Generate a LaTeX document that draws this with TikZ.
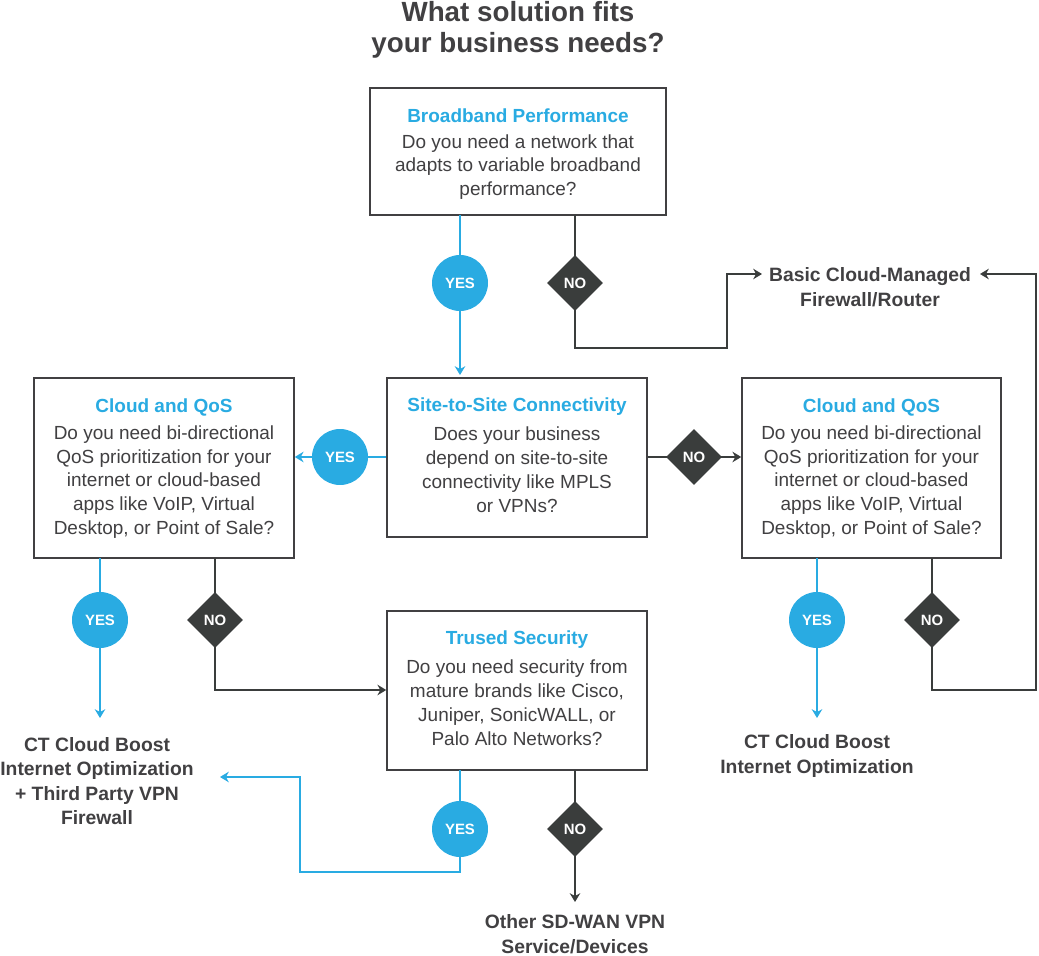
\documentclass[tikz,border=0pt]{standalone}
\usepackage{fontspec}
\setmainfont{Liberation Sans}
\usetikzlibrary{shapes.geometric,arrows.meta}
\definecolor{cblue}{HTML}{29ABE2}
\definecolor{cdark}{HTML}{3A3D3C}
\definecolor{ctext}{HTML}{414042}
\begin{document}
\begin{tikzpicture}[x=0.02cm,y=-0.02cm,
  font=\fontsize{10.8}{13.6}\selectfont, text=ctext,
  box/.style={draw=ctext,line width=0.9pt,fill=white,align=center,inner sep=0pt},
  yes/.style={circle,fill=cblue,text=white,minimum size=1.12cm,inner sep=0pt,font=\fontsize{8.5}{9}\selectfont\bfseries},
  no/.style={diamond,fill=cdark,text=white,minimum size=1.12cm,inner sep=0pt,font=\fontsize{8.5}{9}\selectfont\bfseries},
  bl/.style={draw=cblue,line width=1.6pt},
  dk/.style={draw=cdark,line width=1.6pt},
  arr/.style={-{Stealth[length=5pt,width=6pt]}},
  res/.style={align=center,font=\fontsize{11}{14}\selectfont\bfseries},
  hd/.style={text=cblue,font=\fontsize{10.8}{13}\selectfont\bfseries}]
\useasboundingbox (0,0) rectangle (1039,956);
\node[align=center,font=\fontsize{15.8}{18}\selectfont\bfseries] (title) at (518,30) {What solution fits\\your business needs?};
% boxes
\node[box,minimum width=5.92cm,minimum height=2.54cm] (b1) at (518,151.5) {};
\node[hd] at (518,116) {Broadband Performance};
\node[align=center] at (518,167) {Do you need a network that\\adapts to variable broadband\\performance?};
\node[box,minimum width=5.2cm,minimum height=3.18cm] (b2) at (517,457.5) {};
\node[hd] at (517,407) {Site-to-Site Connectivity};
\node[align=center] at (517,470) {Does your business\\depend on site-to-site\\connectivity like MPLS\\or VPNs?};
\node[box,minimum width=5.2cm,minimum height=3.6cm] (b3) at (164,468) {};
\node[hd] at (164,407) {Cloud and QoS};
\node[align=center] at (164,482) {Do you need bi-directional\\QoS prioritization for your\\internet or cloud-based\\apps like VoIP, Virtual\\Desktop, or Point of Sale?};
\node[box,minimum width=5.18cm,minimum height=3.6cm] (b4) at (871.5,468) {};
\node[hd] at (871.5,407) {Cloud and QoS};
\node[align=center] at (871.5,482) {Do you need bi-directional\\QoS prioritization for your\\internet or cloud-based\\apps like VoIP, Virtual\\Desktop, or Point of Sale?};
\node[box,minimum width=5.2cm,minimum height=3.18cm] (b5) at (517,690.5) {};
\node[hd] at (517,640) {Trused Security};
\node[align=center] at (517,703) {Do you need security from\\mature brands like Cisco,\\Juniper, SonicWALL, or\\Palo Alto Networks?};
% results
\node[res] (r1) at (870,287) {Basic Cloud-Managed\\Firewall/Router};
\node[res] (r2) at (97,781) {CT Cloud Boost\\Internet Optimization\\+ Third Party VPN\\Firewall};
\node[res] (r3) at (817,756) {CT Cloud Boost\\Internet Optimization};
\node[res] (r4) at (575,934) {Other SD-WAN VPN\\Service/Devices};
% coordinates
\coordinate (c1) at (727,274);
\coordinate (c2) at (1036,274);
\coordinate (c3) at (300,777);
\coordinate (m) at (0,457);
% connectors
\draw[bl,arr] (460,215) -- (460,375);
\draw[dk,arr] (575,215) -- (575,348) -- (727,348) -- (c1) -- (762,274);
\draw[bl,arr] (b2.west|-m) -- (b3.east|-m);
\draw[dk,arr] (b2.east|-m) -- (b4.west|-m);
\draw[bl,arr] (100,558) -- (100,718);
\draw[dk,arr] (215,558) -- (215,690) -- (b5.west|-0,690);
\draw[bl,arr] (817,558) -- (817,718);
\draw[dk,arr] (932,558) -- (932,690) -- (1036,690) -- (c2) -- (980,274);
\draw[bl,arr] (460,770) -- (460,872) -- (300,872) -- (c3) -- (220,777);
\draw[dk,arr] (575,770) -- (575,902);
% markers
\node[yes] (y1) at (460,283) {YES};
\node[no] (n1) at (575,283) {NO};
\node[yes] (y2) at (340,457) {YES};
\node[no] (n2) at (694,457) {NO};
\node[yes] (y3) at (100,620) {YES};
\node[no] (n3) at (215,620) {NO};
\node[yes] (y4) at (817,620) {YES};
\node[no] (n4) at (932,620) {NO};
\node[yes] (y5) at (460,829) {YES};
\node[no] (n5) at (575,829) {NO};
\end{tikzpicture}
\end{document}
